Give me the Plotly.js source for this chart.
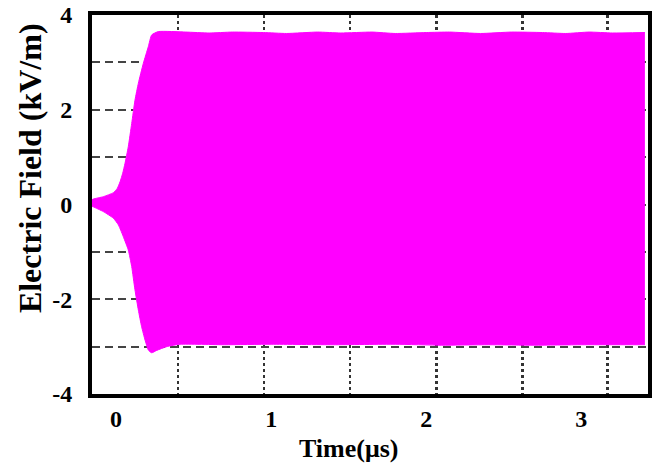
<!DOCTYPE html>
<html>
<head>
<meta charset="utf-8">
<script src="https://cdn.plot.ly/plotly-3.0.1.min.js"></script>
<style>html,body{margin:0;padding:0;background:#fff;}#chart{width:659px;height:463px;}</style>
</head>
<body>
<div id="chart"></div>
<script>
// Envelope of the oscillating field, time in μs, field in kV/m
const upperTime  = [-0.155, -0.146, -0.082, -0.017, 0.008, 0.026, 0.043, 0.058, 0.079, 0.101, 0.122, 0.144, 0.176, 0.208, 0.23, 0.273, 0.45, 0.60, 0.75, 0.95, 1.10, 1.30, 1.45, 1.65, 1.80, 2.00, 2.15, 2.35, 2.55, 2.75, 2.90, 3.05, 3.20, 3.41];
const upperField = [0.10, 0.116, 0.165, 0.25, 0.34, 0.48, 0.66, 0.87, 1.22, 1.71, 2.20, 2.56, 2.98, 3.33, 3.58, 3.65, 3.64, 3.62, 3.64, 3.63, 3.61, 3.64, 3.62, 3.64, 3.61, 3.63, 3.64, 3.61, 3.64, 3.63, 3.61, 3.64, 3.62, 3.63];
const lowerTime  = [-0.155, -0.146, -0.082, -0.017, 0.015, 0.03, 0.047, 0.079, 0.101, 0.122, 0.144, 0.165, 0.187, 0.208, 0.23, 0.262, 0.327, 0.413, 0.70, 1.00, 1.40, 1.80, 2.10, 2.40, 2.70, 3.00, 3.41];
const lowerField = [-0.04, -0.05, -0.15, -0.29, -0.43, -0.54, -0.68, -0.96, -1.31, -1.80, -2.23, -2.58, -2.86, -3.07, -3.13, -3.08, -3.00, -2.95, -2.96, -2.95, -2.96, -2.95, -2.97, -2.96, -2.97, -2.96, -2.96];
// Axis ticks and grid positions
const xTickVals = [0, 1, 2, 3];
const xTickText = ["0", "1", "2", "3"];
const yTickVals = [-4, -2, 0, 2, 4];
const yTickText = ["-4", "-2", "0", "2", "4"];
const yGridVals = [-3, -2, -1, 0, 1, 2, 3];
const xGridVals = [0.40, 0.955, 1.51, 2.065, 2.62, 3.17];

const magenta = '#ff00ff';
const traces = [
  {x: lowerTime, y: lowerField, mode: 'lines', line: {color: magenta, width: 1, shape: 'spline', smoothing: 0.5}, hoverinfo: 'skip'},
  {x: upperTime, y: upperField, mode: 'lines', fill: 'tonexty', fillcolor: magenta, line: {color: magenta, width: 1, shape: 'spline', smoothing: 0.5}, hoverinfo: 'skip'}
];

const tickFont = {family: '"Liberation Serif", "Times New Roman", serif', size: 24, color: '#000', weight: 'bold'};
const layout = {
  width: 659, height: 463,
  margin: {l: 92, r: 11, t: 15, b: 69},
  paper_bgcolor: '#fff', plot_bgcolor: '#fff',
  showlegend: false,
  font: {family: '"Liberation Serif", serif', color: '#000'},
  xaxis: {
    range: [-0.155, 3.43], tickmode: 'array', tickvals: xTickVals, ticktext: xTickText,
    ticks: '', ticklabelstandoff: 0, tickfont: tickFont,
    showgrid: false, zeroline: false,
    minor: {tickmode: 'array', tickvals: xGridVals, showgrid: true, gridcolor: '#333', gridwidth: 2.5, griddash: '2.5px,3.5px', ticks: ''},
    showline: true, linecolor: '#000', linewidth: 4, mirror: true
  },
  yaxis: {
    range: [-4, 4], tickmode: 'array', tickvals: yTickVals, ticktext: yTickText,
    ticks: '', ticklabelstandoff: 11, tickfont: tickFont,
    showgrid: false, zeroline: false,
    minor: {tickmode: 'array', tickvals: yGridVals, showgrid: true, gridcolor: '#444', gridwidth: 2, griddash: '8px,5px', ticks: ''},
    showline: true, linecolor: '#000', linewidth: 4, mirror: true
  },
  annotations: [
    {text: '<b>Electric Field (kV/m)</b>', xref: 'paper', yref: 'paper', x: -0.1115, y: 0.596,
     xanchor: 'center', yanchor: 'middle', textangle: -90, showarrow: false,
     font: {family: '"Liberation Serif", serif', size: 32, color: '#000'}},
    {text: '<b>Time(μs)</b>', xref: 'paper', yref: 'paper', x: 0.462, y: -0.1425,
     xanchor: 'center', yanchor: 'middle', showarrow: false,
     font: {family: '"Liberation Serif", serif', size: 26, color: '#000'}}
  ]
};
Plotly.newPlot('chart', traces, layout, {staticPlot: true, displayModeBar: false});
</script>
</body>
</html>
